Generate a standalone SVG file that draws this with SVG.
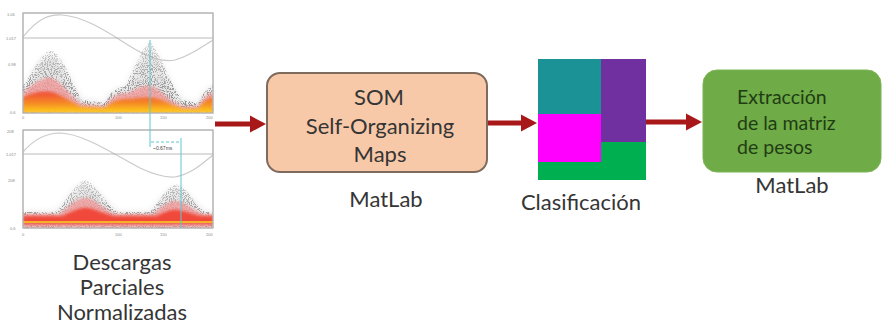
<svg xmlns="http://www.w3.org/2000/svg" width="887" height="331" viewBox="0 0 887 331">
  <defs>
    <style>
      .lbl { font-family: Lato, "Liberation Sans", sans-serif; font-size: 22px; fill: #353535; text-anchor: middle; }
      .inner { font-family: Lato, "Liberation Sans", sans-serif; font-size: 19.5px; fill: #1f3d14; }
      .tick { font-family: "Liberation Sans", sans-serif; font-size: 4px; fill: #888; }
      .frame { fill: #ffffff; stroke: #b4b4b4; stroke-width: 1; }
      .ref { stroke: #a8a8a8; stroke-width: 0.8; fill: none; }
      .wave { stroke: #cacaca; stroke-width: 1.2; fill: none; }
      .conn { stroke: #a81818; stroke-width: 5; fill: none; }
      .head { fill: #a81818; }
      .cyan { stroke: #5cc8d0; stroke-width: 1; fill: none; }
    </style>
    <!-- grainy dot texture for the scatter clouds -->
    <filter id="speckle" x="0" y="0" width="1" height="1">
      <feTurbulence type="fractalNoise" baseFrequency="0.95" numOctaves="1" seed="4" result="noise"/>
      <feColorMatrix in="noise" type="matrix" values="0 0 0 0 0  0 0 0 0 0  0 0 0 0 0  9 0 0 0 -4.4" result="dots"/>
      <feComposite in="SourceGraphic" in2="dots" operator="in"/>
    </filter>
    <filter id="soft" x="-0.1" y="-0.1" width="1.2" height="1.2">
      <feGaussianBlur stdDeviation="1.6"/>
    </filter>
    <filter id="haze" x="-0.1" y="-0.1" width="1.2" height="1.2">
      <feGaussianBlur stdDeviation="3"/>
    </filter>
    <linearGradient id="hot" x1="0" y1="0" x2="0" y2="1">
      <stop offset="0" stop-color="#f04a3a"/>
      <stop offset="0.55" stop-color="#f58a24"/>
      <stop offset="1" stop-color="#ffd21a"/>
    </linearGradient>
    <linearGradient id="cloud" x1="0" y1="0" x2="0" y2="1">
      <stop offset="0" stop-color="#a0a0a0" stop-opacity="0.4"/>
      <stop offset="0.5" stop-color="#858585" stop-opacity="0.7"/>
      <stop offset="1" stop-color="#707070" stop-opacity="0.85"/>
    </linearGradient>
    <clipPath id="clipTop"><rect x="23" y="13" width="190" height="100"/></clipPath>
    <clipPath id="clipBot"><rect x="23" y="130" width="190" height="98"/></clipPath>
  </defs>

  <!-- partial discharge plots -->
  <g id="pd-plots">
    <!-- upper plot -->
    <rect class="frame" x="23" y="13" width="190" height="100"/>
    <g clip-path="url(#clipTop)">
      <path class="wave" d="M23,37 C38,18 50,14 62,15 C90,17 118,40 140,52 C155,60 165,62 175,60 C190,56 203,46 213,40"/>
      <line class="ref" x1="23" y1="38" x2="213" y2="38"/>
      <path fill="#b8b8b8" opacity="0.35" filter="url(#haze)" d="M23,113 L23,88 C30,80 38,58 50,54 C62,56 70,82 82,100 L105,103 C108,94 115,88 124,88 C131,82 140,52 150,46 C160,56 168,82 182,100 L198,103 C202,94 208,88 213,86 L213,113 Z"/>
      <path fill="url(#cloud)" filter="url(#speckle)" d="M23,113 L23,86 C30,78 38,55 50,50 C62,52 70,80 82,100 L105,103 C108,94 115,88 124,87 C131,80 140,48 150,42 C160,52 168,80 182,100 L198,103 C202,94 208,88 213,85 L213,113 Z"/>
      <path fill="#f39a9a" opacity="0.8" filter="url(#soft)" d="M23,113 L23,92 C33,84 43,76 52,78 C62,82 70,96 82,104 L105,106 C110,98 118,92 128,93 C138,88 148,82 156,88 C166,95 172,102 182,106 L198,106 C203,98 208,93 213,92 L213,113 Z"/>
      <path fill="url(#hot)" filter="url(#soft)" d="M23,113 L23,97 C33,92 45,90 55,93 C65,97 72,103 82,107 L105,108 C112,101 122,98 132,99 C142,97 152,96 162,100 C170,104 176,107 184,109 L198,109 C203,102 208,98 213,97 L213,113 Z"/>
      <line class="cyan" x1="150" y1="40" x2="150" y2="113"/>
    </g>
    <rect x="23" y="13" width="190" height="100" fill="none" stroke="#b4b4b4" stroke-width="1"/>
    <text class="tick" x="7" y="16">1.06</text>
    <text class="tick" x="6" y="40">1.017</text>
    <text class="tick" x="8" y="66">0.98</text>
    <text class="tick" x="10" y="114">0.6</text>
    <text class="tick" x="22" y="119">0</text>
    <text class="tick" x="115" y="119">100</text>
    <text class="tick" x="160" y="119">150</text>
    <text class="tick" x="206" y="119">200</text>

    <!-- lower plot -->
    <rect class="frame" x="23" y="130" width="190" height="98"/>
    <g clip-path="url(#clipBot)">
      <path class="wave" d="M23,152 C35,138 48,133 60,133 C85,134 115,155 140,168 C155,175 165,178 175,177 C192,174 204,162 213,155"/>
      <line class="ref" x1="23" y1="154" x2="213" y2="154"/>
      <path fill="#b8b8b8" opacity="0.35" filter="url(#haze)" d="M23,228 L23,212 L55,212 C65,206 72,187 85,183 C98,187 106,205 118,212 L150,212 C158,204 165,190 176,187 C188,190 195,205 205,212 L213,212 L213,228 Z"/>
      <path fill="url(#cloud)" filter="url(#speckle)" d="M23,228 L23,212 L55,212 C65,206 72,185 85,180 C98,184 106,205 118,212 L150,212 C158,204 165,188 176,184 C188,188 195,205 205,212 L213,212 L213,228 Z"/>
      <path fill="#f39a9a" opacity="0.8" filter="url(#soft)" d="M23,228 L23,214 L58,214 C68,208 76,197 86,198 C96,199 104,210 116,214 L152,214 C160,208 168,200 177,201 C186,203 194,210 204,214 L213,214 L213,228 Z"/>
      <path fill="#f04a3a" filter="url(#soft)" d="M23,224 L23,216 L62,216 C72,212 80,207 88,208 C96,209 104,214 114,216 L156,216 C164,213 170,209 178,210 C186,211 194,215 202,216 L213,216 L213,224 Z"/>
      <rect x="23" y="221" width="190" height="2" fill="#f7b02a"/>
      <line class="cyan" x1="181" y1="138" x2="181" y2="228"/>
    </g>
    <rect x="23" y="130" width="190" height="98" fill="none" stroke="#b4b4b4" stroke-width="1"/>
    <text class="tick" x="7" y="133">208</text>
    <text class="tick" x="6" y="156">1.017</text>
    <text class="tick" x="8" y="182">208</text>
    <text class="tick" x="10" y="230">0.6</text>
    <text class="tick" x="22" y="236">0</text>
    <text class="tick" x="115" y="236">100</text>
    <text class="tick" x="160" y="236">150</text>
    <text class="tick" x="206" y="236">200</text>

    <!-- time offset marker -->
    <line class="cyan" x1="150" y1="113" x2="150" y2="147"/>
    <line class="cyan" x1="151" y1="142" x2="180" y2="142" stroke-dasharray="3 2"/>
    <text x="153" y="150" font-family="Liberation Sans, sans-serif" font-size="5" fill="#444">~0.67ms</text>

    <text class="lbl" x="122" y="270" font-size="21.5">Descargas</text>
    <text class="lbl" x="122" y="295" font-size="21.5">Parciales</text>
    <text class="lbl" x="122" y="320" font-size="23">Normalizadas</text>
  </g>

  <!-- SOM stage -->
  <g id="som">
    <rect x="267" y="73" width="220" height="99" rx="13" ry="13" fill="#f8c9a8" stroke="#7f6a5e" stroke-width="2"/>
    <text class="lbl" x="379" y="105">SOM</text>
    <text class="lbl" x="380" y="134">Self-Organizing</text>
    <text class="lbl" x="380" y="162">Maps</text>
    <text class="lbl" x="386" y="207" font-size="23">MatLab</text>
  </g>

  <!-- classification map -->
  <g id="clasificacion">
    <rect x="538" y="59" width="108" height="121" fill="#00b050"/>
    <rect x="538" y="59" width="63" height="55" fill="#1a9296"/>
    <rect x="601" y="59" width="45" height="83" fill="#7030a0"/>
    <rect x="538" y="114" width="63" height="48" fill="#ff00ff"/>
    <text class="lbl" x="581" y="210" font-size="21.5">Clasificación</text>
  </g>

  <!-- weight matrix extraction -->
  <g id="extraccion">
    <rect x="703" y="70" width="178" height="102" rx="14" ry="14" fill="#6fab46" stroke="#7bb555" stroke-width="1"/>
    <text class="inner" x="737" y="104">Extracción</text>
    <text class="inner" x="737" y="130">de la matriz</text>
    <text class="inner" x="737" y="154">de pesos</text>
    <text class="lbl" x="792" y="193" font-size="23">MatLab</text>
  </g>

  <!-- connectors -->
  <g id="connectors">
    <line class="conn" x1="215" y1="124" x2="252" y2="124"/>
    <polygon class="head" points="250,115.5 266,124 250,132.5"/>
    <line class="conn" x1="488" y1="123" x2="523" y2="123"/>
    <polygon class="head" points="521,114.5 537,123 521,131.5"/>
    <line class="conn" x1="646" y1="122" x2="688" y2="122"/>
    <polygon class="head" points="686,113.5 702,122 686,130.5"/>
  </g>
</svg>
